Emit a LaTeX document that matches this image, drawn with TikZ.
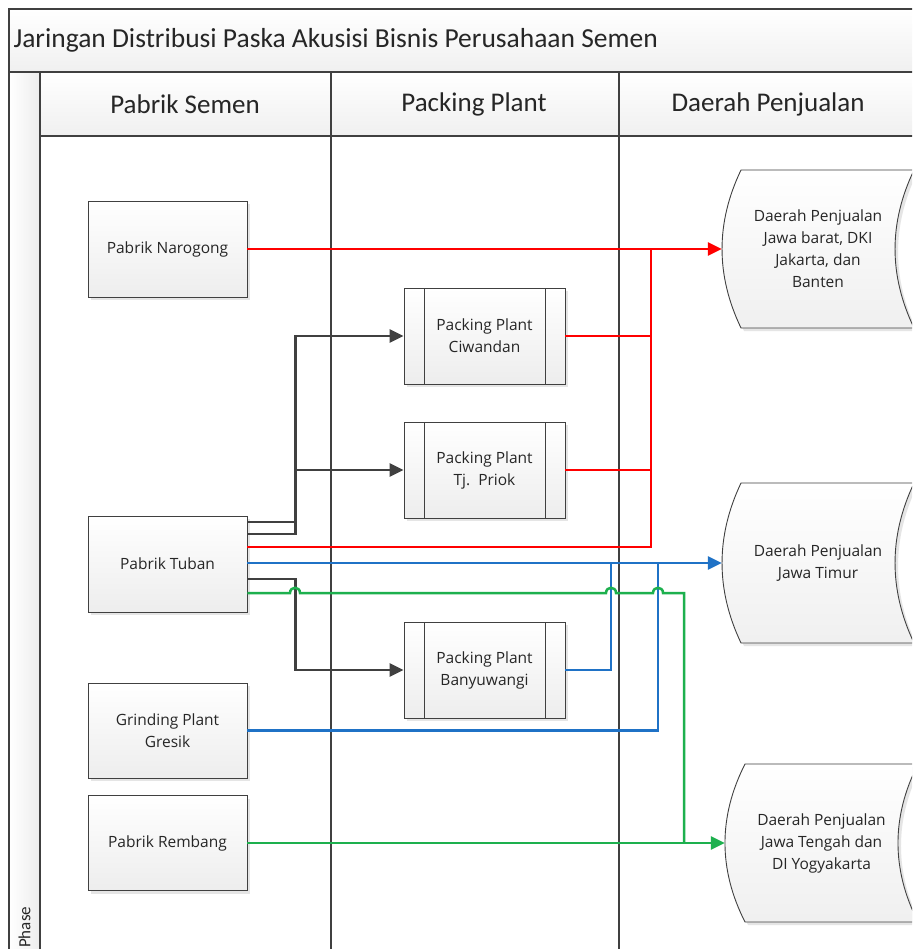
\documentclass[tikz,border=0pt]{standalone}
\usepackage{fontspec}
\setmainfont{Open Sans}
\newfontfamily\headfont{Carlito}
\usetikzlibrary{arrows.meta,calc,shadows}

\definecolor{framegray}{HTML}{404040}
\definecolor{linkgray}{HTML}{404040}
\definecolor{linkred}{HTML}{FF0000}
\definecolor{linkblue}{HTML}{1F72C6}
\definecolor{linkgreen}{HTML}{1DB04E}

\tikzset{
  lane/.style={draw=framegray, line width=1.1pt},
  boxbase/.style={draw=framegray, line width=0.9pt, top color=white, bottom color=black!7,
    drop shadow={shadow xshift=3pt, shadow yshift=-3pt, fill=black!10, opacity=1},
    align=center, font=\fontsize{15.5}{22}\selectfont, text=black!85},
  plant/.style={boxbase, minimum width=159pt, minimum height=96pt},
  packing/.style={boxbase, minimum width=161pt, minimum height=96pt,
    path picture={
      \draw[framegray, line width=0.9pt]
        ([xshift=20pt]path picture bounding box.north west) -- ([xshift=20pt]path picture bounding box.south west)
        ([xshift=-20pt]path picture bounding box.north east) -- ([xshift=-20pt]path picture bounding box.south east);
    }},
  region/.style={align=center, font=\fontsize{15.5}{22}\selectfont, text=black!85, inner sep=0pt},
  regionshape/.style={draw=framegray, line width=0.9pt, top color=white, bottom color=black!6,
    drop shadow={shadow xshift=3pt, shadow yshift=-3pt, fill=black!10, opacity=1}},
  header/.style={font=\headfont\fontsize{27}{32}\selectfont, text=black!85},
  conn/.style={line width=2.5pt, line join=miter},
  tip/.style={-{Triangle[length=14pt,width=13pt]}},
  grayconn/.style={conn, draw=linkgray},
  redconn/.style={conn, draw=linkred},
  blueconn/.style={conn, draw=linkblue},
  greenconn/.style={conn, draw=linkgreen},
}

\begin{document}
\begin{tikzpicture}[x=1pt,y=-1pt]
\path[clip] (0,0) rectangle (912,949);
\fill[white] (0,0) rectangle (912,949);

% bands of the swimlane frame
\shade[top color=white, bottom color=black!6] (9,9) rectangle (930,72);
\shade[top color=white, bottom color=black!6] (40,72) rectangle (930,136);
\shade[left color=white, right color=black!7] (9,72) rectangle (40,960);
\draw[lane] (9,960) -- (9,9) -- (930,9);
\draw[lane] (9,72) -- (930,72);
\draw[lane] (40,136) -- (930,136);
\draw[lane] (40,72) -- (40,960);
\draw[lane] (331,72) -- (331,960);
\draw[lane] (619,72) -- (619,960);

% titles
\node[header, anchor=west, font=\headfont\fontsize{27.5}{32}\selectfont] (title) at (10,40) {Jaringan Distribusi Paska Akusisi Bisnis Perusahaan Semen};
\node[header] (h1) at (185,104) {Pabrik Semen};
\node[header] (h2) at (474,104) {Packing Plant};
\node[header] (h3) at (768,104) {Daerah Penjualan};
\node[font=\headfont\fontsize{17}{20}\selectfont, text=black!85, rotate=90, anchor=west, inner sep=1pt] (phase) at (24.5,949) {Phase};

% cement plants
\node[plant] (naro) at (167.5,249) {Pabrik Narogong};
\node[plant] (tuban) at (167.5,564) {Pabrik Tuban};
\node[plant, minimum height=95pt] (gre) at (167.5,730.5) {Grinding Plant\\Gresik};
\node[plant, minimum height=95pt] (rem) at (167.5,843) {Pabrik Rembang};

% packing plants
\node[packing] (ciw) at (484.5,336) {Packing Plant\\Ciwandan};
\node[packing] (tjp) at (484.5,470) {Packing Plant\\Tj.\ \ Priok};
\node[packing] (bwi) at (484.5,670) {Packing Plant\\Banyuwangi};

% sales regions (stored-data outline)
\path[regionshape] (741,170) -- (914,170) .. controls (888.7,222.7) and (888.7,275.3) .. (914,328)
  -- (741,328) .. controls (715.7,275.3) and (715.7,222.7) .. (741,170) -- cycle;
\path[regionshape] (741,483) -- (914,483) .. controls (888.7,536.3) and (888.7,589.7) .. (914,643)
  -- (741,643) .. controls (715.7,589.7) and (715.7,536.3) .. (741,483) -- cycle;
\path[regionshape] (745,764) -- (918,764) .. controls (891.3,816.7) and (891.3,869.3) .. (918,922)
  -- (745,922) .. controls (718.3,869.3) and (718.3,816.7) .. (745,764) -- cycle;
\node[region, minimum width=192pt, minimum height=157pt] (jb) at (818,249)
  {Daerah Penjualan\\Jawa barat, DKI\\Jakarta, dan\\Banten};
\node[region, minimum width=192pt, minimum height=160pt] (jt) at (818,563)
  {Daerah Penjualan\\Jawa Timur};
\node[region, minimum width=193pt, minimum height=158pt] (jtg) at (821.5,843)
  {Daerah Penjualan\\Jawa Tengah dan\\DI Yogyakarta};

% junction points
\coordinate (rj) at (651,249);
\coordinate (bj1) at (611,563);
\coordinate (bj2) at (658,563);
\coordinate (gj) at (684,843);

% red: West Java
\draw[redconn, tip] (naro.east) -- (jb.west);
\draw[redconn] (ciw.east) -| (rj);
\draw[redconn] (tjp.east) -| (rj);
\draw[redconn] ($(tuban.east)+(0,-17)$) -| (rj);

% gray: Tuban to packing plants
\draw[grayconn, tip] ($(tuban.east)+(0,-42)$) -- ++(48,0) |- (ciw.west);
\draw[grayconn, tip] ($(tuban.east)+(0,-30)$) -- ++(48,0) |- (tjp.west);
\draw[grayconn, tip] ($(tuban.east)+(0,15)$) -- ++(48,0) |- (bwi.west);

% blue: East Java
\draw[blueconn, tip] ($(tuban.east)+(0,-1)$) -- (jt.west);
\draw[blueconn] (bwi.east) -| (bj1);
\draw[blueconn] (gre.east) -| (bj2);

% green: Central Java, hopping over crossings
\draw[greenconn] ($(tuban.east)+(0,29)$) -- (290,593)
  .. controls +(0,-7) and +(0,-7) .. (300,593) -- (606,593)
  .. controls +(0,-7) and +(0,-7) .. (616,593) -- (653,593)
  .. controls +(0,-7) and +(0,-7) .. (663,593) -- (684,593) -- (gj);
\draw[greenconn, tip] (rem.east) -- (jtg.west);
\end{tikzpicture}
\end{document}
